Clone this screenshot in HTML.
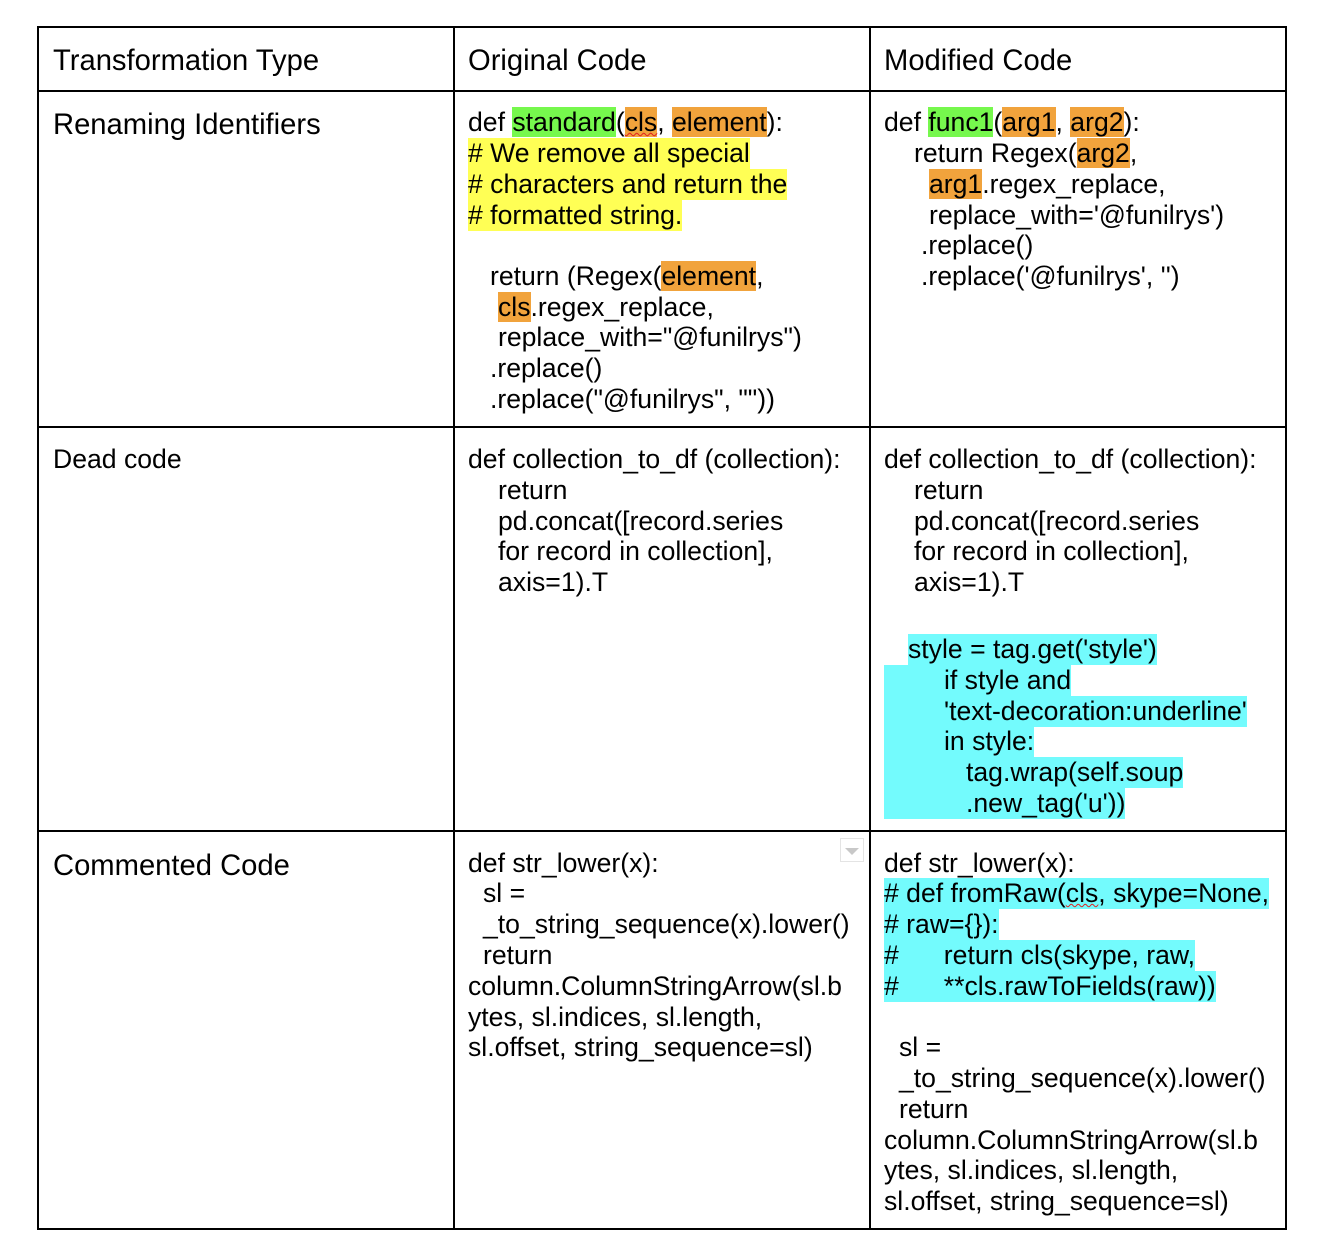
<!DOCTYPE html>
<html><head><meta charset="utf-8"><style>
html,body{margin:0;padding:0;background:#fff;}
body{width:1324px;height:1258px;position:relative;overflow:hidden;font-family:"Liberation Sans",Arial,sans-serif;color:#000;}
.h{position:absolute;background:#000;height:2px;left:37px;width:1250px;}
.v{position:absolute;background:#000;width:2px;top:26px;height:1204px;}
.t{position:absolute;font-size:29.2px;white-space:pre;line-height:31px;height:31px;}
.c{position:absolute;font-size:26.6px;white-space:pre;line-height:31px;height:31px;}
.g{background:#76f84d;}
.o{background:#f1a33c;}
.y{background:#ffff55;}
.cy{background:#73fbfd;}
.w{text-decoration:underline wavy #e02020;text-decoration-thickness:1px;}
</style></head><body>
<div class="h" style="top:26px"></div>
<div class="h" style="top:90px"></div>
<div class="h" style="top:426px"></div>
<div class="h" style="top:830px"></div>
<div class="h" style="top:1228px"></div>
<div class="v" style="left:37px"></div>
<div class="v" style="left:453px"></div>
<div class="v" style="left:869px"></div>
<div class="v" style="left:1285px"></div>

<div class="t" style="left:53px;top:46px">Transformation Type</div>
<div class="t" style="left:468px;top:46px">Original Code</div>
<div class="t" style="left:884px;top:46px">Modified Code</div>
<div class="t" style="left:53px;top:110px">Renaming Identifiers</div>
<div class="t" style="left:53px;top:444px;font-size:26.6px">Dead code</div>
<div class="t" style="left:53px;top:851px">Commented Code</div>

<!-- row1 col2 -->
<div class="c" style="left:468px;top:107px">def <span class="g">standard</span>(<span class="o"><span class="w">cls</span></span>, <span class="o">element</span>):</div>
<div class="c y" style="left:468px;top:138px"># We remove all special</div>
<div class="c y" style="left:468px;top:169px"># characters and return the</div>
<div class="c y" style="left:468px;top:200px"># formatted string.</div>
<div class="c" style="left:490px;top:261px">return (Regex(<span class="o">element</span>,</div>
<div class="c" style="left:498px;top:292px"><span class="o">cls</span>.regex_replace,</div>
<div class="c" style="left:498px;top:322px">replace_with="@funilrys")</div>
<div class="c" style="left:490px;top:353px">.replace()</div>
<div class="c" style="left:490px;top:384px">.replace("@funilrys", ""))</div>
<!-- row1 col3 -->
<div class="c" style="left:884px;top:107px">def <span class="g">func1</span>(<span class="o">arg1</span>, <span class="o">arg2</span>):</div>
<div class="c" style="left:914px;top:138px">return Regex(<span class="o">arg2</span>,</div>
<div class="c" style="left:929px;top:169px"><span class="o">arg1</span>.regex_replace,</div>
<div class="c" style="left:929px;top:200px">replace_with='@funilrys')</div>
<div class="c" style="left:921px;top:230px">.replace()</div>
<div class="c" style="left:921px;top:261px">.replace('@funilrys', '')</div>

<!-- row2 col2 -->
<div class="c" style="left:468px;top:444px">def collection_to_df (collection):</div>
<div class="c" style="left:498px;top:475px">return</div>
<div class="c" style="left:498px;top:506px">pd.concat([record.series</div>
<div class="c" style="left:498px;top:536px">for record in collection],</div>
<div class="c" style="left:498px;top:567px">axis=1).T</div>
<!-- row2 col3 -->
<div class="c" style="left:884px;top:444px">def collection_to_df (collection):</div>
<div class="c" style="left:914px;top:475px">return</div>
<div class="c" style="left:914px;top:506px">pd.concat([record.series</div>
<div class="c" style="left:914px;top:536px">for record in collection],</div>
<div class="c" style="left:914px;top:567px">axis=1).T</div>
<div class="c cy" style="left:908px;top:634px">style = tag.get('style')</div>
<div class="c cy" style="left:884px;top:665px;padding-left:60px">if style and</div>
<div class="c cy" style="left:884px;top:696px;padding-left:60px">'text-decoration:underline'</div>
<div class="c cy" style="left:884px;top:726px;padding-left:60px">in style:</div>
<div class="c cy" style="left:884px;top:757px;padding-left:82px">tag.wrap(self.soup</div>
<div class="c cy" style="left:884px;top:788px;padding-left:82px">.new_tag('u'))</div>

<!-- row3 col2 -->
<div style="position:absolute;left:840px;top:838px;width:24px;height:24px;border:1px solid #e4e4e4;box-sizing:border-box"></div>
<div style="position:absolute;left:845px;top:848px;width:0;height:0;border-left:7px solid transparent;border-right:7px solid transparent;border-top:7px solid #c8c8c8"></div>
<div class="c" style="left:468px;top:848px">def str_lower(x):</div>
<div class="c" style="left:483px;top:878px">sl =</div>
<div class="c" style="left:483px;top:909px">_to_string_sequence(x).lower()</div>
<div class="c" style="left:483px;top:940px">return</div>
<div class="c" style="left:468px;top:971px">column.ColumnStringArrow(sl.b</div>
<div class="c" style="left:468px;top:1002px">ytes, sl.indices, sl.length,</div>
<div class="c" style="left:468px;top:1032px">sl.offset, string_sequence=sl)</div>
<!-- row3 col3 -->
<div class="c" style="left:884px;top:848px">def str_lower(x):</div>
<div class="c cy" style="left:884px;top:878px"># def fromRaw(<span class="w">cls</span>, skype=None,</div>
<div class="c cy" style="left:884px;top:909px"># raw={}):</div>
<div class="c cy" style="left:884px;top:940px">#<span style="display:inline-block;width:45px"></span>return cls(skype, raw,</div>
<div class="c cy" style="left:884px;top:971px">#<span style="display:inline-block;width:45px"></span>**cls.rawToFields(raw))</div>
<div class="c" style="left:899px;top:1032px">sl =</div>
<div class="c" style="left:899px;top:1063px">_to_string_sequence(x).lower()</div>
<div class="c" style="left:899px;top:1094px">return</div>
<div class="c" style="left:884px;top:1125px">column.ColumnStringArrow(sl.b</div>
<div class="c" style="left:884px;top:1155px">ytes, sl.indices, sl.length,</div>
<div class="c" style="left:884px;top:1186px">sl.offset, string_sequence=sl)</div>
</body></html>
